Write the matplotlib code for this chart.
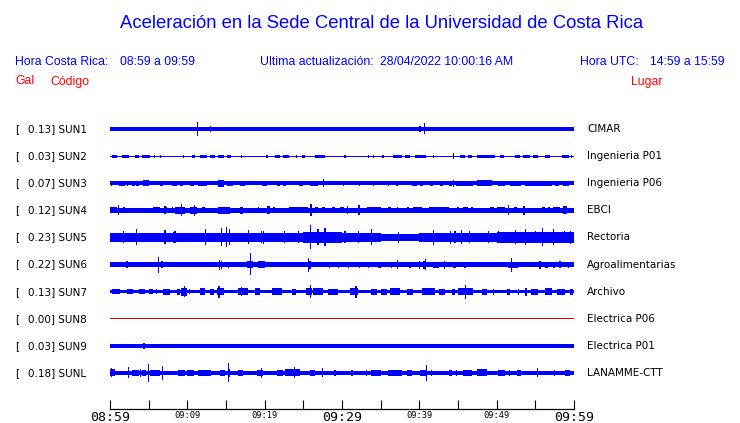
import matplotlib
matplotlib.use('Agg')
import matplotlib.pyplot as plt
import numpy as np

W, H = 740, 423
BLUE = '#0000ff'
RED = '#ff0000'
LINE_RED = '#d40000'

# stations
CODES = ['SUN1', 'SUN2', 'SUN3', 'SUN4', 'SUN5', 'SUN6', 'SUN7', 'SUN8', 'SUN9', 'SUNL']
PEAKS = [0.13, 0.03, 0.07, 0.12, 0.23, 0.22, 0.13, 0.00, 0.03, 0.18]
PLACES = ['CIMAR', 'Ingenieria P01', 'Ingenieria P06', 'EBCI', 'Rectoria',
          'Agroalimentarias', 'Archivo', 'Electrica P06', 'Electrica P01', 'LANAMME-CTT']

# background noise half-width of each trace (display counts)
BASE = [1.6, 0.5, 1.8, 2.3, 4.0, 2.2, 1.9, 0.5, 1.8, 2.2]
# SUN5 noise level per 5-minute block
SUN5_ENVELOPE = [4.3, 4.3, 4.7, 4.3, 4.3, 5.2, 4.3, 3.6, 4.7, 4.7, 5.2, 5.3]

# bursts: (start minute, end minute, half amplitude)
SUN1_EVENTS = [(0.0, 1.5, 2.0), (11.3, 11.3, 7), (13.0, 13.0, 3), (16.4, 16.4, 2.4), (18.6, 18.6, 2.4),
               (28.7, 28.9, 2.4), (30.3, 30.3, 2.4), (35.4, 35.4, 2.4), (40.1, 40.1, 2.8), (40.7, 40.7, 5.5),
               (44.4, 44.4, 2.4), (46.6, 46.6, 2.4), (50.8, 50.8, 2.4), (53.7, 53.7, 2.4), (55.9, 55.9, 2.4)]
SUN2_EVENTS = [(0.2, 0.9, 1.5), (1.5, 2.4, 1.5), (3.2, 3.7, 1.5), (4.1, 5.2, 1.5), (5.8, 5.8, 1.5),
               (6.5, 6.5, 1.5), (9.5, 9.5, 1.5), (10.6, 11.0, 1.5), (11.6, 12.5, 1.5), (12.9, 13.6, 1.5),
               (14.0, 14.7, 1.5), (15.1, 15.7, 1.5), (17.0, 17.0, 1.5), (20.3, 20.3, 1.5), (21.3, 22.0, 1.5),
               (22.4, 23.1, 1.5), (24.1, 24.1, 1.5), (24.8, 25.2, 1.5), (26.5, 27.8, 1.5), (30.4, 30.4, 1.5),
               (33.4, 33.4, 1.5), (34.1, 34.1, 1.5), (35.3, 35.3, 1.5), (36.6, 37.7, 1.5), (38.1, 38.8, 1.5),
               (39.4, 40.9, 1.5), (41.8, 41.8, 1.5), (44.4, 44.4, 2.8), (45.3, 45.9, 1.5), (46.3, 46.8, 1.5),
               (47.4, 49.8, 1.5), (50.4, 50.9, 1.5), (52.4, 53.0, 1.5), (53.4, 54.3, 1.5), (54.7, 55.4, 1.5),
               (56.3, 56.9, 1.5), (58.4, 59.3, 1.5), (59.7, 59.7, 1.5)]
SUN3_EVENTS = [(0.2, 0.2, 2.4), (1.1, 1.9, 2.6), (2.3, 2.3, 2.6), (2.8, 3.2, 2.6), (3.4, 3.7, 2.6),
               (4.3, 5.0, 3.2), (6.5, 6.9, 2.6), (8.0, 8.6, 2.6), (9.1, 9.5, 2.6), (10.3, 10.8, 2.6),
               (11.4, 12.5, 2.6), (14.0, 14.7, 3.5), (15.1, 15.9, 2.6), (16.8, 17.5, 2.6), (19.6, 20.3, 2.6),
               (21.6, 22.0, 2.6), (22.4, 22.8, 2.6), (24.4, 25.0, 2.6), (25.9, 26.9, 2.6), (27.6, 27.6, 4.2),
               (30.2, 30.2, 2.6), (32.3, 32.3, 2.6), (34.1, 34.1, 2.6), (36.0, 36.0, 2.6), (37.1, 37.1, 2.6),
               (39.0, 39.7, 2.6), (40.1, 40.5, 2.6), (41.4, 41.8, 2.6), (42.7, 43.1, 2.6), (43.8, 44.2, 2.6),
               (44.4, 44.4, 3.5), (44.8, 47.0, 2.4), (47.4, 49.4, 2.8), (50.2, 51.1, 2.6), (51.7, 53.2, 2.6),
               (53.7, 57.1, 2.6), (57.5, 58.0, 2.6), (58.6, 59.3, 2.6)]
SUN4_EVENTS = [(0.0, 0.9, 3), (1.1, 1.1, 5), (1.7, 1.9, 3), (5.6, 6.5, 3), (7.1, 7.1, 4), (7.3, 7.3, 3),
               (8.0, 8.2, 3), (8.4, 9.7, 3.3), (9.2, 9.2, 6), (10.3, 11.2, 3.3), (10.9, 10.9, 5.5),
               (11.9, 12.3, 3), (14.0, 15.5, 3.3), (16.8, 17.2, 3.3), (19.2, 19.2, 3), (20.3, 20.7, 3.8),
               (21.1, 21.3, 3), (23.1, 25.6, 3), (25.9, 26.1, 6), (26.5, 26.9, 3), (27.4, 27.8, 3),
               (28.7, 29.1, 3), (29.7, 30.2, 3), (30.7, 30.7, 4), (32.1, 32.3, 5), (33.2, 35.1, 3),
               (36.0, 36.4, 3), (37.1, 37.3, 3), (38.4, 38.6, 3), (39.2, 40.3, 3), (41.2, 43.8, 3),
               (45.0, 45.0, 3), (45.7, 46.3, 3), (46.8, 46.8, 3), (49.1, 49.6, 3), (50.0, 51.1, 3),
               (51.5, 51.5, 5), (52.2, 52.6, 3), (53.4, 53.7, 4.5), (55.8, 56.3, 3), (56.7, 56.9, 3),
               (57.3, 58.2, 3), (58.6, 59.1, 4)]
SUN5_EVENTS = [(1.7, 1.7, 6), (3.4, 3.4, 8), (7.1, 7.1, 7), (8.2, 8.2, 5.5), (8.4, 8.4, 6), (12.3, 12.3, 8),
               (14.4, 14.4, 9), (15.1, 15.1, 10), (15.5, 15.5, 8), (17.9, 17.9, 7), (19.6, 19.6, 6),
               (19.8, 19.8, 6.5), (22.6, 22.6, 6), (24.4, 24.4, 6), (25.9, 25.9, 12), (26.9, 26.9, 8),
               (27.8, 27.8, 9), (30.4, 30.4, 6), (32.1, 32.1, 6), (33.8, 33.8, 8), (37.3, 37.3, 5.5),
               (41.8, 41.8, 7.5), (44.0, 44.0, 6.5), (44.6, 44.6, 6), (45.5, 45.5, 7), (46.5, 46.5, 6),
               (48.9, 48.9, 6), (50.2, 50.2, 6), (52.4, 52.4, 7), (53.7, 53.7, 8), (55.0, 55.0, 6),
               (55.9, 55.9, 9), (57.3, 57.3, 8), (58.8, 58.8, 6), (59.5, 59.5, 6.5)]
SUN6_EVENTS = [(1.1, 1.1, 2.8), (2.2, 2.2, 3.5), (4.1, 4.1, 2.8), (5.2, 5.2, 2.8), (6.25, 6.25, 8),
               (6.6, 6.9, 3.3), (9.7, 10.6, 2.8), (14.2, 14.2, 5), (14.4, 14.4, 4), (15.3, 15.3, 3),
               (17.7, 18.5, 3.3), (18.2, 18.2, 11), (19.2, 20.0, 3.3), (21.6, 21.6, 2.8), (23.9, 23.9, 2.8),
               (25.7, 25.7, 7), (25.6, 26.0, 4), (28.4, 28.4, 3), (29.5, 29.5, 3), (30.8, 30.8, 3),
               (32.3, 32.3, 3), (33.4, 33.4, 3), (34.7, 35.1, 3), (36.4, 36.4, 3), (37.1, 37.3, 4.5),
               (38.8, 38.8, 3), (39.9, 40.1, 4), (40.5, 40.9, 4), (40.8, 40.8, 5.5), (41.8, 42.5, 3),
               (43.3, 43.3, 4), (44.4, 44.8, 3), (45.9, 45.9, 3), (51.5, 52.8, 3), (51.9, 51.9, 7),
               (55.6, 55.6, 4), (56.3, 56.7, 3), (57.3, 57.5, 3), (58.2, 58.2, 3.5), (59.3, 59.3, 3)]
SUN7_EVENTS = [(0.2, 1.3, 2.7), (2.2, 3.0, 2.7), (3.7, 4.5, 2.7), (5.0, 5.6, 2.7), (6.0, 6.0, 2.7),
               (6.9, 7.8, 3), (8.6, 9.1, 3), (9.2, 9.9, 4), (9.6, 9.6, 5.5), (10.3, 10.3, 2.7),
               (11.6, 12.3, 3.6), (12.9, 13.4, 3), (13.8, 14.7, 3.3), (14.1, 14.1, 6), (16.6, 17.9, 3.3),
               (17.0, 17.0, 4.5), (18.8, 19.4, 3.6), (20.9, 22.2, 3.6), (23.5, 24.1, 3), (25.4, 26.1, 3.6),
               (25.9, 25.9, 6.5), (26.3, 27.6, 3.3), (28.2, 29.5, 3), (31.0, 32.1, 3.6), (31.8, 31.8, 6),
               (33.8, 34.5, 3), (35.1, 35.8, 3), (36.2, 37.5, 3.3), (38.4, 39.2, 3), (40.3, 42.0, 3.3),
               (42.5, 43.3, 3), (44.2, 44.6, 3), (45.0, 47.0, 3.6), (46.0, 46.0, 7), (48.1, 48.7, 3),
               (49.6, 49.6, 3), (51.3, 51.7, 3), (52.8, 52.8, 3), (53.7, 53.9, 4), (54.5, 55.4, 3),
               (56.3, 57.1, 3.3), (57.8, 58.8, 3), (59.5, 59.9, 3)]
SUN8_EVENTS = []
SUN9_EVENTS = [(4.4, 4.4, 2.8), (7.3, 7.3, 2.3), (8.0, 8.0, 2.3), (9.5, 9.5, 2.3), (10.6, 10.6, 2.3),
               (15.1, 15.1, 2.3), (17.5, 17.5, 2.3), (17.9, 17.9, 2.3), (18.5, 18.5, 2.3), (20.5, 20.5, 2.3),
               (22.6, 22.6, 2.3), (23.7, 23.7, 2.3), (28.2, 28.2, 2.3), (28.9, 28.9, 2.3), (29.5, 29.5, 2.3),
               (30.2, 30.2, 2.3), (30.8, 30.8, 2.3), (31.9, 31.9, 2.3), (34.9, 34.9, 2.3), (35.8, 35.8, 2.3),
               (37.3, 37.3, 2.3), (40.1, 40.1, 2.3), (41.4, 41.4, 2.3), (42.0, 42.0, 2.3), (42.5, 42.5, 2.3),
               (43.5, 43.5, 2.3), (45.0, 45.0, 2.3), (47.0, 47.0, 2.3), (51.7, 51.7, 2.3), (55.0, 55.0, 2.3),
               (57.8, 57.8, 2.3), (58.4, 58.4, 2.3)]
SUNL_EVENTS = [(0.0, 0.6, 3.5), (0.2, 0.2, 4.5), (2.4, 2.4, 5.5), (2.8, 3.7, 3), (3.9, 3.9, 4),
               (4.1, 4.7, 3.3), (5.0, 5.0, 9), (5.2, 6.5, 3.3), (6.8, 6.8, 7), (8.8, 9.7, 3),
               (9.9, 10.8, 2.8), (11.4, 13.1, 2.8), (14.2, 14.9, 3), (15.3, 15.3, 9.5), (15.5, 15.5, 4),
               (16.6, 17.2, 2.8), (19.0, 19.8, 3.3), (19.6, 19.6, 5), (21.6, 22.4, 2.8), (22.6, 24.6, 3.6),
               (23.9, 23.9, 5.5), (25.9, 26.5, 3.3), (27.4, 27.6, 4.5), (29.1, 29.1, 3), (31.3, 31.3, 2.8),
               (33.2, 33.2, 2.8), (33.8, 35.1, 2.8), (36.0, 37.7, 2.8), (38.4, 39.0, 2.8), (40.1, 40.9, 3),
               (40.9, 40.9, 8), (41.6, 41.6, 2.8), (43.8, 44.2, 2.8), (44.8, 44.8, 2.8), (45.7, 46.8, 3),
               (47.4, 48.7, 3.6), (50.2, 51.1, 2.8), (51.7, 51.7, 2.8), (52.6, 53.2, 2.8), (55.2, 55.4, 4.5),
               (57.5, 57.5, 2.8), (58.8, 59.5, 2.8)]

TICK_MINUTES = [0, 5, 10, 15, 20, 25, 30, 35, 40, 45, 50, 55, 60]
TICK_LABELS = ['08:59', '', '09:09', '', '09:19', '', '09:29', '', '09:39', '', '09:49', '', '09:59']
BIG_LABELS = ['08:59', '09:29', '09:59']

ALL_EVENTS = [SUN1_EVENTS, SUN2_EVENTS, SUN3_EVENTS, SUN4_EVENTS, SUN5_EVENTS,
              SUN6_EVENTS, SUN7_EVENTS, SUN8_EVENTS, SUN9_EVENTS, SUNL_EVENTS]

# layout in image pixels
ROW0, ROW_STEP = 129, 27.1
AX_LEFT, AX_RIGHT, AX_TOP, AX_BOTTOM = 110, 574, 100, 409.3
COUNT = 1.0 / ROW_STEP          # one display count in row units
MIN_W = 0.16                     # narrowest burst, minutes


def fx(px):
    return px / W


def fy(py):
    return 1 - py / H


fig = plt.figure(figsize=(W / 100, H / 100), dpi=100)
fig.patch.set_facecolor('white')
ax = fig.add_axes([fx(AX_LEFT), fy(AX_BOTTOM), (AX_RIGHT - AX_LEFT) / W, (AX_BOTTOM - AX_TOP) / H])
ax.set_xlim(0, 60)
ax.set_ylim((AX_BOTTOM - ROW0) / ROW_STEP, (AX_TOP - ROW0) / ROW_STEP)

for i, events in enumerate(ALL_EVENTS):
    color = LINE_RED if CODES[i] == 'SUN8' else BLUE
    if CODES[i] == 'SUN5':
        edges = np.arange(0, 61, 5)
        env = np.array(SUN5_ENVELOPE + [SUN5_ENVELOPE[-1]]) * COUNT
        ax.fill_between(edges, i - env, i + env, step='post', color=color, linewidth=0)
    else:
        b = BASE[i] * COUNT
        ax.fill_between([0, 60], [i - b, i - b], [i + b, i + b], color=color, linewidth=0)
    if events:
        t0 = np.array([e[0] for e in events])
        t1 = np.array([e[1] for e in events])
        amp = np.array([e[2] for e in events]) * COUNT
        wid = np.maximum(t1 - t0, MIN_W)
        left = np.where(t1 > t0, t0, t0 - MIN_W / 2)
        ax.bar(left, 2 * amp, width=wid, bottom=i - amp, align='edge', color=color, linewidth=0)

for s in ['top', 'left', 'right']:
    ax.spines[s].set_visible(False)
ax.spines['bottom'].set_linewidth(0.9)
ax.set_yticks([])
ax.set_xticks(TICK_MINUTES)
ax.set_xticklabels(TICK_LABELS, family='DejaVu Sans Mono')
ax.tick_params(axis='x', direction='in', length=6.5, width=0.8, pad=1.5)
for lab in ax.get_xticklabels():
    lab.set_fontsize(9.5 if lab.get_text() in BIG_LABELS else 6.3)

# header texts (placed on their baselines)
hdr = dict(family='Liberation Sans', color=BLUE, va='baseline')
fig.text(fx(381.5), fy(28.5), 'Aceleración en la Sede Central de la Universidad de Costa Rica',
         ha='center', fontsize=13.3, **hdr)
fig.text(fx(15), fy(64.5), 'Hora Costa Rica:', ha='left', fontsize=8.8, **hdr)
fig.text(fx(120), fy(64.5), '08:59 a 09:59', ha='left', fontsize=8.8, **hdr)
fig.text(fx(260), fy(64.5), 'Ultima actualización:', ha='left', fontsize=8.8, **hdr)
fig.text(fx(380), fy(64.5), '28/04/2022 10:00:16 AM', ha='left', fontsize=8.8, **hdr)
fig.text(fx(580), fy(64.5), 'Hora UTC:', ha='left', fontsize=8.8, **hdr)
fig.text(fx(725), fy(64.5), '14:59 a 15:59', ha='right', fontsize=8.8, **hdr)

red = dict(family='Liberation Sans', color=RED, va='baseline', fontsize=8.8)
fig.text(fx(15), fy(84.5), 'Gal', ha='left', **red)
fig.text(fx(50), fy(84.5), 'Código', ha='left', **red)
fig.text(fx(662), fy(84.5), 'Lugar', ha='right', **red)

# station labels
for i in range(len(CODES)):
    y = fy(ROW0 + ROW_STEP * i)
    fig.text(fx(15), y, '[', ha='left', va='center', fontsize=7.5, color='black')
    fig.text(fx(27.7), y, f'{PEAKS[i]:.2f}] {CODES[i]}', ha='left', va='center', fontsize=7.5, color='black')
    fig.text(fx(587), y, PLACES[i], ha='left', va='center', fontsize=7.5, color='black')

fig.savefig('out.png', dpi=100)
